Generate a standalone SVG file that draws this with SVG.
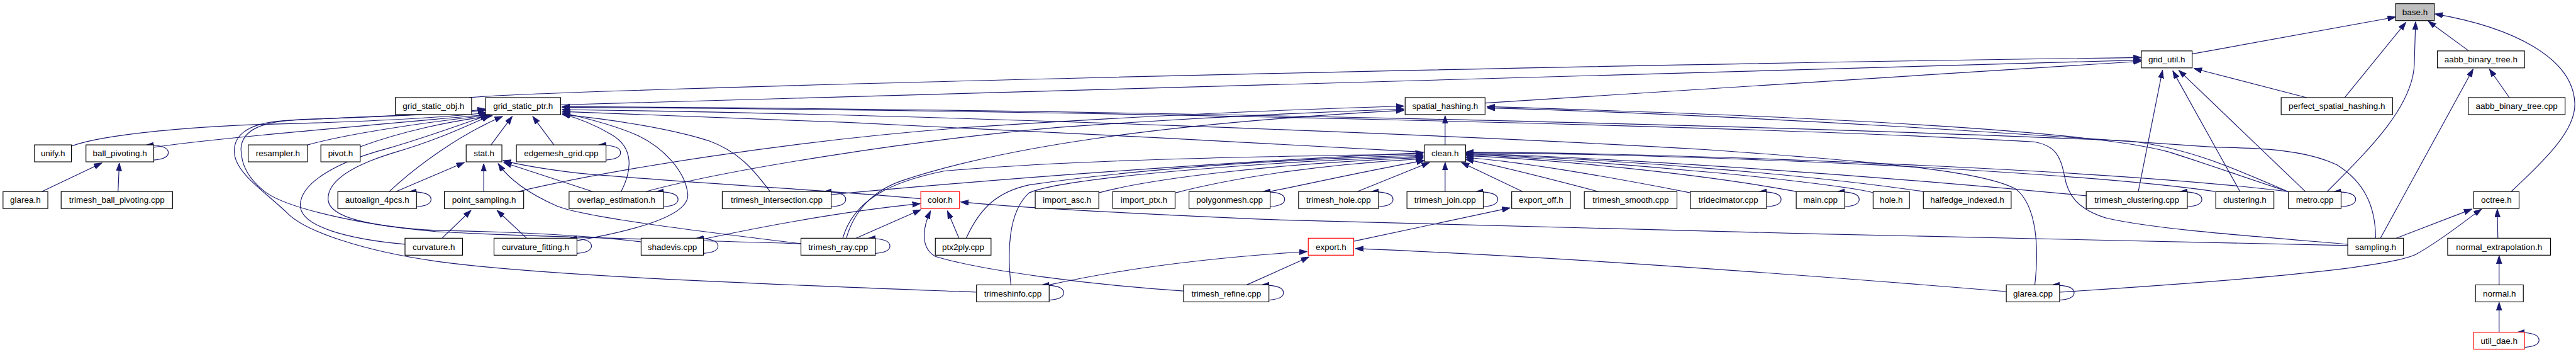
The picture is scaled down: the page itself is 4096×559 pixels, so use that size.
<svg xmlns="http://www.w3.org/2000/svg" xmlns:xlink="http://www.w3.org/1999/xlink" width="4096" height="559" viewBox="0 0 4096 559">
<defs>
<style>
.n rect{fill:#fff;stroke:#000;stroke-width:1.2}
.n text{font-family:"Liberation Sans",Arial,sans-serif;font-size:14px;text-anchor:middle;fill:#000}
.r rect{stroke:#ff0000}
.g rect{fill:#bfbfbf}
.e{fill:none;stroke:#191970;stroke-width:1.2;marker-end:url(#ah)}
</style>
<marker id="ah" markerUnits="userSpaceOnUse" markerWidth="14" markerHeight="10" refX="13" refY="4.5" orient="auto"><path d="M0,0 L13,4.5 L0,9 z" fill="#191970" stroke="#191970" stroke-width="1"/></marker>
<path id="loop" d="M0,25 C14,24 24,20 24,13 C24,5 14,0 -13,0.5"/>
</defs>
<rect width="4096" height="559" fill="#fff"/>
<g transform="scale(0.96263)">
<g id="edges" class="e">
<path d="M3621,89 L3957,28"/>
<path d="M3873,161 L3974,37"/>
<path d="M3844,316 C3915,245 3986,175 3988,105 L3990,36"/>
<path d="M4078,84 L4011,35"/>
<path d="M4148,316 C4205,262 4255,215 4253,170 C4250,95 4150,45 4022,23"/>
<path d="M775,161 C900,148 2500,108 3537,95"/>
<path d="M926,173 L3537,99"/>
<path d="M2453,170 L3537,101"/>
<path d="M3810,161 L3624,113"/>
<path d="M3532,316 L3572,116"/>
<path d="M3700,316 L3589,117"/>
<path d="M3808,316 L3599,116"/>
<path d="M4145,161 L4112,114"/>
<path d="M3932,393 L4085,114"/>
<path d="M3958,393 L4083,345"/>
<path d="M3402,482 C3650,466 3935,445 3990,420 C4035,395 4070,365 4099,345"/>
<path d="M4126,393 L4125,345"/>
<path d="M4128,470 L4128,422"/>
<path d="M4128,548 L4128,499"/>
<path d="M118,241 C170,222 320,207 480,204 C620,200 730,194 803,186"/>
<path d="M254,243 C340,230 550,212 806,189"/>
<path d="M508,239 C570,222 690,203 809,190"/>
<path d="M595,242 C660,218 740,200 813,191"/>
<path d="M69,316 L168,269"/>
<path d="M195,316 L197,269"/>
<path d="M811,239 L846,192"/>
<path d="M915,239 L880,192"/>
<path d="M643,316 C690,272 760,222 830,192"/>
<path d="M654,316 L767,268"/>
<path d="M1059,399 C950,386 820,382 720,380 C620,376 480,346 440,318 C410,296 398,270 398,245 C400,214 432,200 500,197 C620,193 720,189 802,182"/>
<path d="M1613,482 C1300,470 900,456 720,431 C600,414 505,382 475,352 C440,318 395,290 388,258 C382,226 405,203 470,199 C600,192 720,190 802,180"/>
<path d="M669,403 C580,395 495,375 496,338 C497,300 560,266 640,245 C700,228 760,206 806,190"/>
<path d="M1323,402 C1100,395 850,390 720,382 C610,372 545,360 542,330 C540,298 585,272 650,252 C720,232 770,208 809,191"/>
<path d="M799,316 L799,270"/>
<path d="M730,393 L778,347"/>
<path d="M870,393 L821,347"/>
<path d="M856,316 C1000,282 1300,232 1600,210 C1900,190 2150,180 2319,175"/>
<path d="M979,316 L832,268"/>
<path d="M1026,316 C1042,285 1050,245 1010,222 C985,207 955,195 929,188"/>
<path d="M1067,316 C1200,280 1500,232 1750,210 C2000,192 2200,184 2319,180"/>
<path d="M953,397 C1050,380 1140,355 1136,320 C1132,282 1095,242 1050,222 C1010,205 960,193 929,186"/>
<path d="M1272,316 C1245,280 1220,250 1170,232 C1100,210 1000,196 929,189"/>
<path d="M1373,321 C1700,290 2100,263 2351,252"/>
<path d="M1159,395 C1300,365 1430,345 1520,336"/>
<path d="M1414,393 L1521,346"/>
<path d="M1521,328 C1350,312 1100,300 950,285 C900,279 860,272 831,265"/>
<path d="M1323,402 C1100,375 960,356 920,340 C870,318 840,295 823,270"/>
<path d="M1398,393 C1410,350 1440,315 1490,298 C1650,245 1900,205 2319,182"/>
<path d="M1392,393 C1410,330 1470,300 1560,282 C1800,262 2100,258 2351,254"/>
<path d="M1584,393 L1565,348"/>
<path d="M1596,393 C1620,340 1650,316 1700,305 C1900,276 2150,262 2351,256"/>
<path d="M1955,480 C1800,470 1620,446 1545,423 C1522,410 1522,380 1537,348"/>
<path d="M2057,471 L2162,424"/>
<path d="M1670,471 C1664,420 1664,350 1700,318 C1760,292 2100,266 2351,258"/>
<path d="M1733,470 C1850,444 2000,425 2159,415"/>
<path d="M3878,405 C3500,398 2500,375 2120,363 C1850,352 1650,340 1587,333"/>
<path d="M3878,403 C3700,388 3560,378 3480,360 C3430,345 3415,320 3410,290 C3404,258 3395,240 3360,234 C2900,208 1800,182 928,177"/>
<path d="M3779,316 C3700,282 3620,245 3520,233 C2900,205 1800,180 928,176"/>
<path d="M3361,471 C3368,410 3365,340 3330,312 C3280,285 3150,270 2820,247 C2400,222 1500,187 928,181"/>
<path d="M2387,239 L2387,191"/>
<path d="M2353,251 C2100,237 1600,210 1400,202 C1200,195 1000,188 929,184"/>
<path d="M3314,481 C3000,455 2600,425 2239,410"/>
<path d="M2236,398 L2494,343"/>
<path d="M3779,316 C3700,290 3620,262 3580,250 C3450,215 3000,192 2456,176"/>
<path d="M3924,393 C3924,340 3905,300 3860,272 C3810,248 3740,244 3660,243 C3400,225 2900,190 2456,178"/>
<path d="M2515,316 L2414,268"/>
<path d="M2640,316 C2560,295 2470,272 2421,263"/>
<path d="M2792,318 C2650,290 2500,265 2421,260"/>
<path d="M2967,316 C2800,285 2550,262 2421,257"/>
<path d="M3094,318 C3070,310 2900,290 2800,282 C2650,268 2500,258 2421,255"/>
<path d="M3177,316 C3000,290 2700,264 2421,254"/>
<path d="M3446,323 C3100,290 2700,262 2421,253"/>
<path d="M3659,316 C3550,300 3350,285 3100,272 C2800,258 2600,253 2421,252"/>
<path d="M3779,316 C3650,300 3450,286 3200,274 C2900,260 2650,252 2421,251"/>
<path d="M2242,316 L2361,268"/>
<path d="M2387,316 L2387,268"/>
<path d="M1815,318 C1900,295 2100,270 2351,260"/>
<path d="M1942,318 C2050,290 2200,270 2351,262"/>
<path d="M2098,316 C2200,295 2290,275 2353,265"/>
<use xlink:href="#loop" x="254" y="239"/>
<use xlink:href="#loop" x="1001" y="239"/>
<use xlink:href="#loop" x="688" y="316"/>
<use xlink:href="#loop" x="1096" y="316"/>
<use xlink:href="#loop" x="1373" y="316"/>
<use xlink:href="#loop" x="2098" y="316"/>
<use xlink:href="#loop" x="2277" y="316"/>
<use xlink:href="#loop" x="2450" y="316"/>
<use xlink:href="#loop" x="2918" y="316"/>
<use xlink:href="#loop" x="3047" y="316"/>
<use xlink:href="#loop" x="3613" y="316"/>
<use xlink:href="#loop" x="3867" y="316"/>
<use xlink:href="#loop" x="953" y="393"/>
<use xlink:href="#loop" x="1162" y="393"/>
<use xlink:href="#loop" x="1446" y="393"/>
<use xlink:href="#loop" x="1733" y="470"/>
<use xlink:href="#loop" x="2096" y="470"/>
<use xlink:href="#loop" x="3402" y="470"/>
<use xlink:href="#loop" x="4170" y="548"/>
</g>
<g id="n_base_h" class="n g"><rect x="3957" y="6" width="64" height="28"/><text x="3989" y="25">base.h</text></g>
<g id="n_grid_util_h" class="n"><rect x="3537" y="84" width="84" height="28"/><text x="3579" y="103">grid_util.h</text></g>
<g id="n_aabb_binary_tree_h" class="n"><rect x="4026" y="84" width="144" height="28"/><text x="4098" y="103">aabb_binary_tree.h</text></g>
<g id="n_grid_static_obj_h" class="n"><rect x="653" y="161" width="126" height="28"/><text x="716" y="180">grid_static_obj.h</text></g>
<g id="n_grid_static_ptr_h" class="n"><rect x="802" y="161" width="124" height="28"/><text x="864" y="180">grid_static_ptr.h</text></g>
<g id="n_spatial_hashing_h" class="n"><rect x="2321" y="161" width="132" height="28"/><text x="2387" y="180">spatial_hashing.h</text></g>
<g id="n_perfect_spatial_hashing_h" class="n"><rect x="3768" y="161" width="184" height="28"/><text x="3860" y="180">perfect_spatial_hashing.h</text></g>
<g id="n_aabb_binary_tree_cpp" class="n"><rect x="4077" y="161" width="160" height="28"/><text x="4157" y="180">aabb_binary_tree.cpp</text></g>
<g id="n_unify_h" class="n"><rect x="57" y="239" width="61" height="28"/><text x="87.5" y="258">unify.h</text></g>
<g id="n_ball_pivoting_h" class="n"><rect x="142" y="239" width="112" height="28"/><text x="198" y="258">ball_pivoting.h</text></g>
<g id="n_resampler_h" class="n"><rect x="410" y="239" width="98" height="28"/><text x="459" y="258">resampler.h</text></g>
<g id="n_pivot_h" class="n"><rect x="530" y="239" width="65" height="28"/><text x="562.5" y="258">pivot.h</text></g>
<g id="n_stat_h" class="n"><rect x="770" y="239" width="59" height="28"/><text x="799.5" y="258">stat.h</text></g>
<g id="n_edgemesh_grid_cpp" class="n"><rect x="853" y="239" width="148" height="28"/><text x="927" y="258">edgemesh_grid.cpp</text></g>
<g id="n_clean_h" class="n"><rect x="2353" y="239" width="68" height="28"/><text x="2387" y="258">clean.h</text></g>
<g id="n_glarea_h" class="n"><rect x="5" y="316" width="74" height="28"/><text x="42" y="335">glarea.h</text></g>
<g id="n_trimesh_ball_pivoting_cpp" class="n"><rect x="101" y="316" width="184" height="28"/><text x="193" y="335">trimesh_ball_pivoting.cpp</text></g>
<g id="n_autoalign_4pcs_h" class="n"><rect x="558" y="316" width="130" height="28"/><text x="623" y="335">autoalign_4pcs.h</text></g>
<g id="n_point_sampling_h" class="n"><rect x="734" y="316" width="131" height="28"/><text x="799.5" y="335">point_sampling.h</text></g>
<g id="n_overlap_estimation_h" class="n"><rect x="940" y="316" width="156" height="28"/><text x="1018" y="335">overlap_estimation.h</text></g>
<g id="n_trimesh_intersection_cpp" class="n"><rect x="1193" y="316" width="180" height="28"/><text x="1283" y="335">trimesh_intersection.cpp</text></g>
<g id="n_color_h" class="n r"><rect x="1521" y="316" width="64" height="28"/><text x="1553" y="335">color.h</text></g>
<g id="n_import_asc_h" class="n"><rect x="1710" y="316" width="105" height="28"/><text x="1762.5" y="335">import_asc.h</text></g>
<g id="n_import_ptx_h" class="n"><rect x="1838" y="316" width="103" height="28"/><text x="1889.5" y="335">import_ptx.h</text></g>
<g id="n_polygonmesh_cpp" class="n"><rect x="1964" y="316" width="134" height="28"/><text x="2031" y="335">polygonmesh.cpp</text></g>
<g id="n_trimesh_hole_cpp" class="n"><rect x="2145" y="316" width="132" height="28"/><text x="2211" y="335">trimesh_hole.cpp</text></g>
<g id="n_trimesh_join_cpp" class="n"><rect x="2324" y="316" width="126" height="28"/><text x="2387" y="335">trimesh_join.cpp</text></g>
<g id="n_export_off_h" class="n"><rect x="2497" y="316" width="97" height="28"/><text x="2545.5" y="335">export_off.h</text></g>
<g id="n_trimesh_smooth_cpp" class="n"><rect x="2617" y="316" width="153" height="28"/><text x="2693.5" y="335">trimesh_smooth.cpp</text></g>
<g id="n_tridecimator_cpp" class="n"><rect x="2792" y="316" width="126" height="28"/><text x="2855" y="335">tridecimator.cpp</text></g>
<g id="n_main_cpp" class="n"><rect x="2967" y="316" width="80" height="28"/><text x="3007" y="335">main.cpp</text></g>
<g id="n_hole_h" class="n"><rect x="3094" y="316" width="60" height="28"/><text x="3124" y="335">hole.h</text></g>
<g id="n_halfedge_indexed_h" class="n"><rect x="3177" y="316" width="145" height="28"/><text x="3249.5" y="335">halfedge_indexed.h</text></g>
<g id="n_trimesh_clustering_cpp" class="n"><rect x="3446" y="316" width="167" height="28"/><text x="3529.5" y="335">trimesh_clustering.cpp</text></g>
<g id="n_clustering_h" class="n"><rect x="3660" y="316" width="96" height="28"/><text x="3708" y="335">clustering.h</text></g>
<g id="n_metro_cpp" class="n"><rect x="3780" y="316" width="87" height="28"/><text x="3823.5" y="335">metro.cpp</text></g>
<g id="n_octree_h" class="n"><rect x="4086" y="316" width="75" height="28"/><text x="4123.5" y="335">octree.h</text></g>
<g id="n_curvature_h" class="n"><rect x="669" y="393" width="95" height="28"/><text x="716.5" y="412">curvature.h</text></g>
<g id="n_curvature_fitting_h" class="n"><rect x="816" y="393" width="137" height="28"/><text x="884.5" y="412">curvature_fitting.h</text></g>
<g id="n_shadevis_cpp" class="n"><rect x="1059" y="393" width="103" height="28"/><text x="1110.5" y="412">shadevis.cpp</text></g>
<g id="n_trimesh_ray_cpp" class="n"><rect x="1323" y="393" width="123" height="28"/><text x="1384.5" y="412">trimesh_ray.cpp</text></g>
<g id="n_ptx2ply_cpp" class="n"><rect x="1545" y="393" width="92" height="28"/><text x="1591" y="412">ptx2ply.cpp</text></g>
<g id="n_export_h" class="n r"><rect x="2161" y="393" width="75" height="28"/><text x="2198.5" y="412">export.h</text></g>
<g id="n_sampling_h" class="n"><rect x="3878" y="393" width="92" height="28"/><text x="3924" y="412">sampling.h</text></g>
<g id="n_normal_extrapolation_h" class="n"><rect x="4043" y="393" width="170" height="28"/><text x="4128" y="412">normal_extrapolation.h</text></g>
<g id="n_trimeshinfo_cpp" class="n"><rect x="1613" y="470" width="120" height="28"/><text x="1673" y="489">trimeshinfo.cpp</text></g>
<g id="n_trimesh_refine_cpp" class="n"><rect x="1955" y="470" width="141" height="28"/><text x="2025.5" y="489">trimesh_refine.cpp</text></g>
<g id="n_glarea_cpp" class="n"><rect x="3314" y="470" width="88" height="28"/><text x="3358" y="489">glarea.cpp</text></g>
<g id="n_normal_h" class="n"><rect x="4089" y="470" width="79" height="28"/><text x="4128.5" y="489">normal.h</text></g>
<g id="n_util_dae_h" class="n r"><rect x="4086" y="548" width="84" height="28"/><text x="4128" y="567">util_dae.h</text></g>
</g>
</svg>
